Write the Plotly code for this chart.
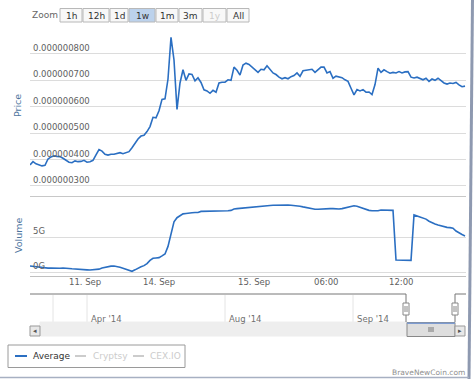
import plotly.graph_objects as go

# ---------------- data ----------------
price = [
    3.80e-7, 3.92e-7, 3.84e-7, 3.80e-7, 3.76e-7, 3.78e-7, 4.02e-7, 4.10e-7, 4.14e-7, 4.12e-7,
    4.11e-7, 4.05e-7, 3.98e-7, 3.90e-7, 3.88e-7, 3.95e-7, 3.92e-7, 3.93e-7, 3.97e-7, 3.90e-7,
    3.92e-7, 3.97e-7, 4.18e-7, 4.38e-7, 4.32e-7, 4.20e-7, 4.17e-7, 4.20e-7, 4.20e-7, 4.22e-7,
    4.26e-7, 4.22e-7, 4.25e-7, 4.30e-7, 4.45e-7, 4.62e-7, 4.78e-7, 4.89e-7, 4.92e-7, 5.06e-7,
    5.25e-7, 5.60e-7, 5.58e-7, 5.85e-7, 6.28e-7, 6.30e-7, 7.05e-7, 8.63e-7, 7.77e-7, 5.90e-7,
    6.90e-7, 7.40e-7, 7.00e-7, 7.24e-7, 7.22e-7, 6.98e-7, 7.10e-7, 6.92e-7, 6.64e-7, 6.60e-7,
    6.51e-7, 6.62e-7, 6.55e-7, 6.90e-7, 6.93e-7, 6.93e-7, 7.02e-7, 7.00e-7, 7.50e-7, 7.38e-7,
    7.20e-7, 7.58e-7, 7.65e-7, 7.60e-7, 7.50e-7, 7.40e-7, 7.30e-7, 7.42e-7, 7.40e-7, 7.55e-7,
    7.40e-7, 7.28e-7, 7.22e-7, 7.12e-7, 7.06e-7, 7.10e-7, 7.06e-7, 7.14e-7, 7.18e-7, 7.28e-7,
    7.15e-7, 7.36e-7, 7.38e-7, 7.39e-7, 7.42e-7, 7.30e-7, 7.40e-7, 7.50e-7, 7.50e-7, 7.28e-7,
    7.33e-7, 7.08e-7, 7.16e-7, 7.12e-7, 7.10e-7, 7.02e-7, 6.96e-7, 6.70e-7, 6.45e-7, 6.65e-7,
    6.60e-7, 6.65e-7, 6.55e-7, 6.56e-7, 6.46e-7, 6.84e-7, 7.46e-7, 7.30e-7, 7.40e-7, 7.33e-7,
    7.27e-7, 7.30e-7, 7.28e-7, 7.33e-7, 7.28e-7, 7.32e-7, 7.33e-7, 7.12e-7, 7.09e-7, 7.12e-7,
    7.08e-7, 7.02e-7, 7.08e-7, 6.96e-7, 7.05e-7, 7.00e-7, 7.08e-7, 6.98e-7, 6.90e-7, 6.86e-7,
    6.90e-7, 6.88e-7, 6.92e-7, 6.83e-7, 6.76e-7, 6.78e-7,
]

volume_g = [
    0.90, 0.85, 0.78, 0.70, 0.65, 0.62, 0.60, 0.62, 0.58, 0.60,
    0.58, 0.62, 0.62, 0.55, 0.50, 0.45, 0.42, 0.40, 0.37, 0.35,
    0.32, 0.35, 0.40, 0.45, 0.60, 0.72, 0.80, 0.88, 0.90, 0.85,
    0.72, 0.58, 0.40, 0.22, 0.14, 0.35, 0.62, 0.80, 0.95, 1.25,
    1.70, 2.00, 2.05, 2.10, 2.35, 2.62, 3.70, 5.40, 7.20, 7.80,
    8.10, 8.35, 8.40, 8.50, 8.50, 8.55, 8.55, 8.70, 8.70, 8.72,
    8.75, 8.75, 8.75, 8.75, 8.75, 8.75, 8.80, 8.85, 9.05, 9.10,
    9.15, 9.20, 9.25, 9.30, 9.35, 9.40, 9.45, 9.48, 9.50, 9.52,
    9.55, 9.58, 9.60, 9.60, 9.60, 9.62, 9.60, 9.58, 9.55, 9.50,
    9.45, 9.35, 9.25, 9.15, 9.08, 9.02, 9.00, 9.05, 9.08, 9.10,
    9.10, 9.10, 9.05, 9.05, 9.10, 9.20, 9.35, 9.50, 9.50, 9.45,
    9.30, 9.10, 8.95, 8.85, 8.80, 8.75, 8.80, 8.90, 8.90, 8.85,
    8.90, 8.85, 1.75, 1.72, 1.72, 1.70, 1.70, 1.70, 8.20, 8.05,
    7.95, 7.85, 7.60, 7.30, 7.05, 6.90, 6.75, 6.62, 6.50, 6.42,
    6.38, 6.30, 5.90, 5.60, 5.40, 5.20,
]

sample_index = list(range(len(price)))

time_tick_positions = [18.3, 43.0, 74.7, 98.7, 123.7]
time_tick_labels = ["11. Sep", "14. Sep", "15. Sep", "06:00", "12:00"]

price_tick_values = [3e-7, 4e-7, 5e-7, 6e-7, 7e-7, 8e-7, 9e-7]
price_tick_labels = ["0.000000300", "0.000000400", "0.000000500", "0.000000600",
                     "0.000000700", "0.000000800", ""]

volume_tick_values = [0, 5]
volume_tick_labels = ["0G", "5G"]

zoom_buttons = ["1h", "12h", "1d", "1w", "1m", "3m", "1y", "All"]
navigator_labels = ["Apr '14", "Aug '14", "Sep '14"]
legend_names = ["Average", "Cryptsy", "CEX.IO"]

# ---------------- layout helpers ----------------
W, H = 474, 379
L, R, T, B = 30, 8, 27, 103
PW = W - L - R
PH = H - T - B
FONT = "Lucida Grande, DejaVu Sans, sans-serif"
BLUE = "#2b6fc2"


def fx(p):
    return (p - L) / PW


def fy(p):
    return (H - B - p) / PH


shapes = []
annotations = []


def rect(x0, y0, x1, y1, fill=None, line="#aaaaaa", lw=1):
    shapes.append(dict(type="rect", xref="paper", yref="paper",
                       x0=fx(x0), x1=fx(x1), y0=fy(y0), y1=fy(y1),
                       fillcolor=fill if fill else "rgba(0,0,0,0)",
                       line=dict(color=line, width=lw), layer="above"))


def seg(x0, y0, x1, y1, color="#c0c0c0", lw=1):
    shapes.append(dict(type="line", xref="paper", yref="paper",
                       x0=fx(x0), x1=fx(x1), y0=fy(y0), y1=fy(y1),
                       line=dict(color=color, width=lw), layer="above"))


def text(x, y, s, size=8.5, color="#606060", xanchor="center", angle=0):
    annotations.append(dict(xref="paper", yref="paper", x=fx(x), y=fy(y), text=s,
                            showarrow=False, xanchor=xanchor, yanchor="middle",
                            textangle=angle, font=dict(family=FONT, size=size, color=color)))


# ---------------- figure ----------------
fig = go.Figure()
fig.add_trace(go.Scatter(x=sample_index, y=price, mode="lines", xaxis="x", yaxis="y",
                         line=dict(color=BLUE, width=1.6), showlegend=False))
fig.add_trace(go.Scatter(x=sample_index, y=volume_g, mode="lines", xaxis="x", yaxis="y2",
                         line=dict(color=BLUE, width=1.6), showlegend=False))

price_bottom = fy(196)
vol_top = fy(197)

# time axis labels, placed on the x axis scale
for pos, lab in zip(time_tick_positions, time_tick_labels):
    annotations.append(dict(xref="x", yref="paper", x=pos, y=fy(281.5), text=lab,
                            showarrow=False, xanchor="center", yanchor="middle",
                            font=dict(family=FONT, size=8.5, color="#606060")))

# panel separator line
seg(30, 196.5, 466, 196.5, color="#c8c8c8")

# zoom buttons
text(30, 15, "Zoom", size=9, color="#666666", xanchor="left")
edges = [60, 83, 110, 129, 156, 179, 203, 227, 250]
for i, lab in enumerate(zoom_buttons):
    x0, x1 = edges[i], edges[i + 1] - 1
    fill = "#bcd2ec" if lab == "1w" else "#f8f8f8"
    rect(x0, 8.5, x1, 22, fill=fill, line="#b8b8b8")
    col = "#cccccc" if lab == "1y" else "#333333"
    text((x0 + x1) / 2, 15.5, lab, size=9, color=col)

# axis titles
text(18, 106, "Price", size=9.5, color="#4d759e", angle=-90)
text(18, 236, "Volume", size=9.5, color="#4d759e", angle=-90)

# navigator grid lines and labels
for gx in [53, 87, 225, 353]:
    seg(gx, 295, gx, 322, color="#e4e4e4")
for gx, lab in zip([89, 227, 355], navigator_labels):
    text(gx, 319, lab, size=8.5, color="#707070", xanchor="left")

# scrollbar
rect(40, 322, 407, 336, fill="#eeeeee", line="#eeeeee")
rect(30, 326, 40, 336, fill="#e8e8e8", line="#999999")
text(35, 331, "◂", size=7, color="#555555")
rect(407, 322.5, 455, 336.5, fill="#dedede", line="#888888")
for gx in [429, 431, 433]:
    seg(gx, 327, gx, 332, color="#777777")
seg(407, 323.3, 455, 323.3, color="#7d9bd0", lw=1.5)
rect(455, 326, 465, 336, fill="#e8e8e8", line="#999999")
text(460, 331, "▸", size=7, color="#555555")

# navigator outline
seg(30, 294, 406, 294, color="#777777")
seg(406, 294, 406, 322, color="#777777")
seg(455, 294, 455, 322, color="#777777")
seg(455, 294, 466, 294, color="#777777")
for hx in [406, 455]:
    rect(hx - 3, 303, hx + 3, 315, fill="#ffffff", line="#888888")
    seg(hx - 1, 306, hx - 1, 312, color="#888888")
    seg(hx + 1, 306, hx + 1, 312, color="#888888")

# legend box (drawn)
shapes.append(dict(type="path", xref="paper", yref="paper", layer="above",
                   path=("M {a},{b} L {c},{b} L {c},{d} L {a},{d} Z").format(
                       a=fx(8), b=fy(345), c=fx(185), d=fy(367.5)),
                   line=dict(color="#9a9a9a", width=1), fillcolor="rgba(0,0,0,0)"))
leg_pos = [(15, 27, 31), (75, 86, 91), (133, 144, 148)]
for (lx0, lx1, tx), name in zip(leg_pos, legend_names):
    c = BLUE if name == "Average" else "#cccccc"
    tc = "#333333" if name == "Average" else "#cccccc"
    seg(lx0, 356, lx1, 356, color=c, lw=2)
    text(tx, 356, name, size=9, color=tc, xanchor="left")

# credits
text(467, 372, "BraveNewCoin.com", size=7.5, color="#909090", xanchor="right")

# page frame on the right and bottom
shapes.append(dict(type="path", xref="paper", yref="paper", layer="above",
                   path="M {a},{b} L {c},{d}".format(a=fx(472.5), b=fy(0), c=fx(469), d=fy(379)),
                   line=dict(color="#8e99b0", width=3)))
seg(0, 377.5, 469, 377.5, color="#a7b0c2", lw=1.5)

fig.update_layout(
    width=W, height=H,
    margin=dict(l=L, r=R, t=T, b=B, pad=0, autoexpand=False),
    paper_bgcolor="white", plot_bgcolor="white",
    showlegend=False,
    font=dict(family=FONT, size=8.5, color="#606060"),
    xaxis=dict(domain=[0, 1], anchor="y2", range=[0, 145.33], automargin=False,
               tickmode="array", tickvals=time_tick_positions, ticktext=time_tick_labels,
               showticklabels=False,
               showgrid=False, zeroline=False, showline=True, linecolor="#c0c0c0",
               ticks=""),
    yaxis=dict(domain=[price_bottom, 1], range=[2.62e-7, 9.02e-7], automargin=False,
               tickmode="array", tickvals=price_tick_values, ticktext=price_tick_labels,
               ticklabelposition="inside top", gridcolor="#dcdcdc", zeroline=False,
               showline=False, tickfont=dict(size=8.5, color="#606060")),
    yaxis2=dict(domain=[0, vol_top], range=[-0.53, 10.76], automargin=False,
                tickmode="array", tickvals=volume_tick_values, ticktext=volume_tick_labels,
                ticklabelposition="inside top", gridcolor="#dcdcdc", zeroline=False,
                showline=False, tickfont=dict(size=8.5, color="#606060")),
    shapes=shapes,
    annotations=annotations,
)

fig.write_html("out.html", config={"displayModeBar": False},
               post_script="document.body.style.margin='0px';document.body.style.overflow='hidden';")
